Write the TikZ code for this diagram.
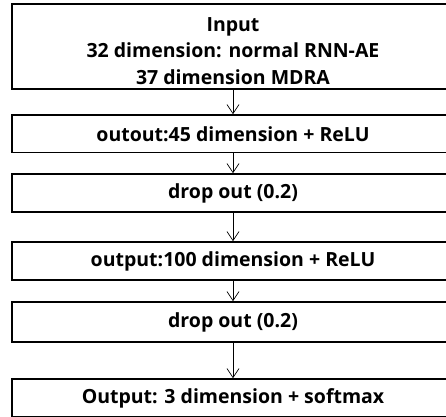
\documentclass[tikz,border=0pt]{standalone}
\usepackage{fontspec}
\setmainfont{Open Sans}
\usetikzlibrary{arrows.meta}
\tikzset{
  layer/.style={draw=black, line width=1.6pt, fill=white, minimum width=442pt, inner sep=0pt, align=center, font=\bfseries\fontsize{19.5}{26.5}\selectfont},
  flow/.style={draw=black, line width=0.7pt, -{Straight Barb[length=9pt, width=12pt, line width=0.7pt]}}
}
\begin{document}
\begin{tikzpicture}[x=1pt,y=1pt]
\useasboundingbox (0,0) rectangle (446,416);
\node[layer, minimum height=85pt] (b1) at (233,369.5) {\rule{0pt}{23pt}Input\\32 dimension: normal RNN-AE\\37 dimension MDRA};
\node[layer, minimum height=37.5pt] (b2) at (233,282.25) {outout:45 dimension + ReLU};
\node[layer, minimum height=38pt] (b3) at (233,223) {drop out (0.2)};
\node[layer, minimum height=38pt] (b4) at (233,155) {output:100 dimension + ReLU};
\node[layer, minimum height=40pt] (b5) at (233,94) {drop out (0.2)};
\node[layer, minimum height=38pt] (b6) at (233,18) {Output: 3 dimension + softmax};
\draw[flow] (b1.south) -- (b2.north);
\draw[flow] (b2.south) -- (b3.north);
\draw[flow] (b3.south) -- (b4.north);
\draw[flow] (b4.south) -- (b5.north);
\draw[flow] (b5.south) -- (b6.north);
\end{tikzpicture}
\end{document}
